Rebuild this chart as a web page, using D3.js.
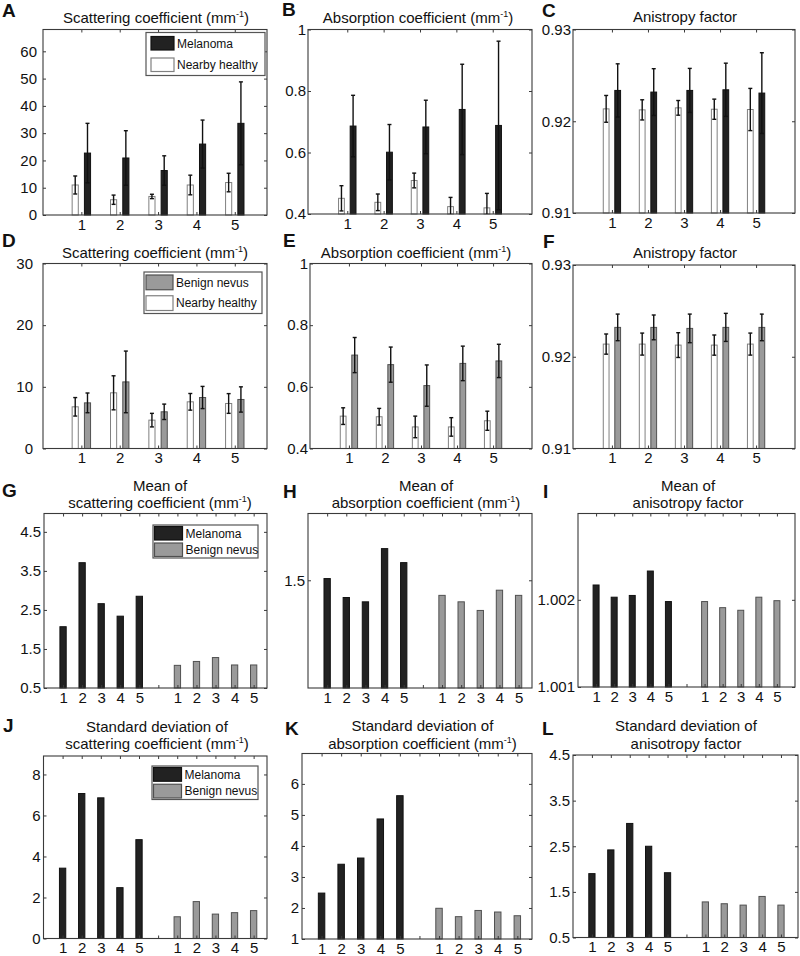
<!DOCTYPE html>
<html><head><meta charset="utf-8">
<script src="https://cdn.jsdelivr.net/npm/d3@7"></script>
<style>
body{margin:0;background:#fff}
svg{display:block}
text{font-family:"Liberation Sans",Arial,Helvetica,sans-serif}
</style>
</head><body>
<svg id="chart" width="800" height="956"></svg>
<script>
// ---------------- DATA ----------------
const groups = [1, 2, 3, 4, 5];
const groupLabels = ["1", "2", "3", "4", "5"];
const pairPositions = [1, 2, 3, 4, 5, 6, 7, 8, 9, 10, 11];
const pairLabels = ["1", "2", "3", "4", "5", "", "1", "2", "3", "4", "5"];
const melPositions = [1, 2, 3, 4, 5];
const benignPositions = [7, 8, 9, 10, 11];

// A: scattering coefficient, melanoma vs nearby healthy
const aHealthyMean = [11.0, 5.6, 6.8, 11.0, 11.9];
const aHealthyStd  = [3.3, 1.7, 0.8, 3.6, 3.4];
const aMelMean     = [22.7, 20.9, 16.3, 26.0, 33.6];
const aMelStd      = [10.9, 10.0, 5.4, 8.8, 15.2];
const aYTicks = [0, 10, 20, 30, 40, 50, 60];

// B: absorption coefficient, melanoma vs nearby healthy
const bHealthyMean = [0.451, 0.438, 0.509, 0.424, 0.420];
const bHealthyStd  = [0.041, 0.027, 0.024, 0.030, 0.047];
const bMelMean     = [0.686, 0.601, 0.683, 0.740, 0.688];
const bMelStd      = [0.100, 0.090, 0.087, 0.147, 0.274];
const bYTicks = [0.4, 0.6, 0.8, 1];

// C: anisotropy factor, melanoma vs nearby healthy
const cHealthyMean = [0.92135, 0.92124, 0.92146, 0.92131, 0.92128];
const cHealthyStd  = [0.00146, 0.0011, 0.0008, 0.0011, 0.0023];
const cMelMean     = [0.92336, 0.92318, 0.92336, 0.92343, 0.92307];
const cMelStd      = [0.0029, 0.00255, 0.0024, 0.0029, 0.0044];
const cYTicks = [0.91, 0.92, 0.93];

// D: scattering coefficient, benign nevus vs nearby healthy
const dHealthyMean = [6.76, 9.03, 4.6, 7.57, 7.3];
const dHealthyStd  = [1.5, 2.76, 1.1, 1.35, 1.6];
const dBenignMean  = [7.4, 10.8, 5.95, 8.27, 7.95];
const dBenignStd   = [1.6, 5.0, 1.25, 1.8, 2.05];
const dYTicks = [0, 10, 20, 30];

// E: absorption coefficient, benign nevus vs nearby healthy
const eHealthyMean = [0.505, 0.503, 0.470, 0.470, 0.490];
const eHealthyStd  = [0.027, 0.027, 0.035, 0.030, 0.031];
const eBenignMean  = [0.703, 0.672, 0.604, 0.676, 0.684];
const eBenignStd   = [0.057, 0.057, 0.067, 0.056, 0.054];
const eYTicks = [0.4, 0.6, 0.8, 1];

// F: anisotropy factor, benign nevus vs nearby healthy
const fHealthyMean = [0.92138, 0.92138, 0.92127, 0.92127, 0.92138];
const fHealthyStd  = [0.0011, 0.0012, 0.00135, 0.0011, 0.0012];
const fBenignMean  = [0.9232, 0.9232, 0.92309, 0.9232, 0.9232];
const fBenignStd   = [0.00145, 0.00135, 0.00156, 0.00153, 0.00145];
const fYTicks = [0.91, 0.92, 0.93];

// G-I: means (ratio), melanoma vs benign nevus
const gMel    = [2.07, 3.71, 2.66, 2.34, 2.85];
const gBenign = [1.08, 1.18, 1.28, 1.09, 1.09];
const gYTicks = [0.5, 1.5, 2.5, 3.5, 4.5];
const hMel    = [1.508, 1.42, 1.40, 1.647, 1.582];
const hBenign = [1.43, 1.40, 1.36, 1.454, 1.43];
const hYTicks = [1.5];
const iMel    = [1.00217, 1.00203, 1.00205, 1.00233, 1.00198];
const iBenign = [1.00198, 1.00191, 1.00188, 1.00203, 1.00199];
const iYTicks = [1.001, 1.002];

// J-L: standard deviations (ratio), melanoma vs benign nevus
const jMel    = [3.43, 7.07, 6.86, 2.48, 4.82];
const jBenign = [1.06, 1.80, 1.19, 1.26, 1.36];
const jYTicks = [0, 2, 4, 6, 8];
const kMel    = [2.48, 3.41, 3.61, 4.87, 5.62];
const kBenign = [1.99, 1.72, 1.92, 1.87, 1.75];
const kYTicks = [1, 2, 3, 4, 5, 6];
const lMel    = [1.90, 2.42, 3.0, 2.5, 1.92];
const lBenign = [1.28, 1.24, 1.21, 1.40, 1.21];
const lYTicks = [0.5, 1.5, 2.5, 3.5, 4.5];

// ---------------- STYLE ----------------
const COL_MEL = "#222222", COL_BEN = "#9a9a9a", COL_WHITE = "#ffffff";
const STK_MEL = "#111111", STK_BEN = "#505050", STK_WHITE = "#808080";
const AXIS_COL = "#3a3a3a";
const TICK_FS = 15, TITLE_FS = 15, LEG_FS = 12;

const svg = d3.select("#chart");

function titleLine(x, y, str) {
  const t = svg.append("text").attr("x", x).attr("y", y)
    .attr("text-anchor", "middle").attr("font-size", TITLE_FS).attr("fill", "#111");
  const idx = str.indexOf("(mm-1)");
  if (idx < 0) { t.text(str); return; }
  t.append("tspan").text(str.slice(0, idx) + "(mm");
  t.append("tspan").attr("font-size", TITLE_FS * 0.6).attr("dy", -TITLE_FS * 0.38).text("-1");
  t.append("tspan").attr("dy", TITLE_FS * 0.38).text(")");
}

function letter(x, y, s) {
  svg.append("text").attr("x", x).attr("y", y).attr("font-size", 19)
    .attr("font-weight", "bold").attr("fill", "#111").text(s);
}

function styleAxis(g) {
  g.select(".domain").remove();
  g.selectAll("line").attr("stroke", AXIS_COL);
  g.selectAll("text").attr("font-size", TICK_FS).attr("fill", "#111")
    .attr("font-family", '"Liberation Sans",Arial,Helvetica,sans-serif');
  g.attr("font-family", null).attr("font-size", null);
}

function frame(p, x, y, xTicks, xFmt) {
  const fmtY = p.yFmt || (d => d);
  svg.append("g").attr("transform", `translate(${p.l},0)`)
    .call(d3.axisLeft(y).tickValues(p.yTicks).tickSize(-3).tickPadding(p.gap).tickFormat(fmtY))
    .call(styleAxis);
  svg.append("g").attr("transform", `translate(${p.r},0)`)
    .call(d3.axisRight(y).tickValues(p.yTicks).tickSize(-3).tickFormat(""))
    .call(styleAxis);
  svg.append("g").attr("transform", `translate(0,${p.b})`)
    .call(d3.axisBottom(x).tickValues(xTicks).tickSize(-3).tickPadding(4).tickFormat(xFmt))
    .call(styleAxis);
  svg.append("g").attr("transform", `translate(0,${p.t})`)
    .call(d3.axisTop(x).tickValues(xTicks).tickSize(-3).tickFormat(""))
    .call(styleAxis);
  svg.append("rect").attr("x", p.l).attr("y", p.t).attr("width", p.r - p.l).attr("height", p.b - p.t)
    .attr("fill", "none").attr("stroke", AXIS_COL).attr("stroke-width", 1.1);
}

function legend(p) {
  const g = svg.append("g");
  g.append("rect").attr("x", p.x).attr("y", p.y).attr("width", p.w).attr("height", p.h)
    .attr("fill", "#fff").attr("stroke", "#555").attr("stroke-width", 1.2);
  const rowH = p.h / p.entries.length;
  p.entries.forEach((e, i) => {
    const y0 = p.y + i * rowH;
    g.append("rect").attr("x", p.x + p.sx).attr("y", y0 + p.sy)
      .attr("width", p.sw).attr("height", rowH - 2 * p.sy)
      .attr("fill", e.fill).attr("stroke", e.stroke).attr("stroke-width", 1.2);
    g.append("text").attr("x", p.x + p.sx + p.sw + 3).attr("y", y0 + rowH / 2 + 4.3)
      .attr("font-size", LEG_FS).attr("fill", "#111").text(e.label);
  });
}

function errorPanel(p) {
  const x = d3.scaleLinear().domain(p.xDomain).range([p.l, p.r]);
  const y = d3.scaleLinear().domain(p.yDomain).range([p.b, p.t]);
  const bw = 0.16, off = 0.16;
  p.series.forEach(s => {
    const pos = groups.map(gv => gv + s.side * off);
    svg.append("g").selectAll("rect").data(s.mean).join("rect")
      .attr("x", (d, i) => x(pos[i] - bw / 2))
      .attr("width", (d, i) => x(pos[i] + bw / 2) - x(pos[i] - bw / 2))
      .attr("y", d => y(d)).attr("height", d => p.b - y(d))
      .attr("fill", s.fill).attr("stroke", s.stroke).attr("stroke-width", 1);
  });
  frame(p, x, y, groups, (d, i) => groupLabels[i]);
  p.series.forEach(s => {
    const pos = groups.map(gv => gv + s.side * off);
    const eg = svg.append("g").attr("stroke", "#111").attr("stroke-width", 1.4);
    s.mean.forEach((m, i) => {
      const cx = x(pos[i]);
      const y1 = y(m + s.std[i]), y0 = y(Math.max(m - s.std[i], p.yDomain[0]));
      eg.append("line").attr("x1", cx).attr("x2", cx).attr("y1", y1).attr("y2", y0);
      eg.append("line").attr("x1", cx - 2).attr("x2", cx + 2).attr("y1", y1).attr("y2", y1);
      if (m - s.std[i] > p.yDomain[0])
        eg.append("line").attr("x1", cx - 2).attr("x2", cx + 2).attr("y1", y0).attr("y2", y0);
    });
  });
  titleLine(p.tx, p.ty, p.title);
  letter(p.lx, p.ly, p.letter);
  if (p.legend) legend(p.legend);
}

function pairPanel(p) {
  const x = d3.scaleLinear().domain(p.xDomain).range([p.l, p.r]);
  const y = d3.scaleLinear().domain(p.yDomain).range([p.b, p.t]);
  const bw = 0.33;
  [[melPositions, p.mel, COL_MEL, STK_MEL], [benignPositions, p.ben, COL_BEN, STK_BEN]].forEach(([pos, vals, fill, stk]) => {
    svg.append("g").selectAll("rect").data(vals).join("rect")
      .attr("x", (d, i) => x(pos[i] - bw / 2))
      .attr("width", (d, i) => x(pos[i] + bw / 2) - x(pos[i] - bw / 2))
      .attr("y", d => y(d)).attr("height", d => p.b - y(d))
      .attr("fill", fill).attr("stroke", stk).attr("stroke-width", 1);
  });
  frame(p, x, y, pairPositions, (d, i) => pairLabels[i]);
  p.title.forEach((t, i) => titleLine(p.tx, p.ty[i], t));
  letter(p.lx, p.ly, p.letter);
  if (p.legend) legend(p.legend);
}

const legMelHealthy = [
  {label: "Melanoma", fill: COL_MEL, stroke: STK_MEL},
  {label: "Nearby healthy", fill: COL_WHITE, stroke: STK_WHITE}];
const legBenHealthy = [
  {label: "Benign nevus", fill: COL_BEN, stroke: STK_BEN},
  {label: "Nearby healthy", fill: COL_WHITE, stroke: STK_WHITE}];
const legMelBen = [
  {label: "Melanoma", fill: COL_MEL, stroke: STK_MEL},
  {label: "Benign nevus", fill: COL_BEN, stroke: STK_BEN}];

const healthySeries = (m, s) => ({mean: m, std: s, side: -1, fill: COL_WHITE, stroke: STK_WHITE});
const melSeries = (m, s) => ({mean: m, std: s, side: 1, fill: COL_MEL, stroke: STK_MEL});
const benSeries = (m, s) => ({mean: m, std: s, side: 1, fill: COL_BEN, stroke: STK_BEN});

// Row 1
errorPanel({l: 43, r: 267, t: 29.5, b: 215, xDomain: [0, 5.84], yDomain: [0, 68], yTicks: aYTicks, gap: 6,
  series: [healthySeries(aHealthyMean, aHealthyStd), melSeries(aMelMean, aMelStd)],
  title: "Scattering coefficient (mm-1)", tx: 156, ty: 23, letter: "A", lx: 2, ly: 17,
  legend: {x: 146, y: 32.5, w: 119, h: 43, sx: 5, sy: 4, sw: 23, entries: legMelHealthy}});
errorPanel({l: 308, r: 532, t: 29.5, b: 214, xDomain: [-0.08, 6.08], yDomain: [0.4, 1], yTicks: bYTicks, gap: 2,
  series: [healthySeries(bHealthyMean, bHealthyStd), melSeries(bMelMean, bMelStd)],
  title: "Absorption coefficient (mm-1)", tx: 418, ty: 23, letter: "B", lx: 282, ly: 16});
errorPanel({l: 573, r: 795, t: 29.5, b: 213, xDomain: [-0.08, 6.08], yDomain: [0.91, 0.93], yTicks: cYTicks, gap: 2,
  series: [healthySeries(cHealthyMean, cHealthyStd), melSeries(cMelMean, cMelStd)],
  title: "Anistropy factor", tx: 685, ty: 22, letter: "C", lx: 542, ly: 17});

// Row 2
errorPanel({l: 43, r: 267, t: 263.5, b: 448.5, xDomain: [0, 5.84], yDomain: [0, 30], yTicks: dYTicks, gap: 10,
  series: [healthySeries(dHealthyMean, dHealthyStd), benSeries(dBenignMean, dBenignStd)],
  title: "Scattering coefficient (mm-1)", tx: 155, ty: 258, letter: "D", lx: 2, ly: 247,
  legend: {x: 144, y: 272, w: 118, h: 41.5, sx: 2, sy: 3, sw: 27, entries: legBenHealthy}});
errorPanel({l: 310, r: 532, t: 263.5, b: 448.5, xDomain: [-0.08, 6.08], yDomain: [0.4, 1], yTicks: eYTicks, gap: 2,
  series: [healthySeries(eHealthyMean, eHealthyStd), benSeries(eBenignMean, eBenignStd)],
  title: "Absorption coefficient (mm-1)", tx: 416, ty: 258, letter: "E", lx: 283, ly: 247});
errorPanel({l: 573, r: 795, t: 265, b: 448.5, xDomain: [-0.08, 6.08], yDomain: [0.91, 0.93], yTicks: fYTicks, gap: 2,
  series: [healthySeries(fHealthyMean, fHealthyStd), benSeries(fBenignMean, fBenignStd)],
  title: "Anistropy factor", tx: 685, ty: 258, letter: "F", lx: 543, ly: 248});

// Row 3
pairPanel({l: 44, r: 267, t: 513.5, b: 688, xDomain: [0, 11.7], yDomain: [0.5, 4.97], yTicks: gYTicks, gap: 3,
  mel: gMel, ben: gBenign, title: ["Mean of", "scattering coefficient (mm-1)"], tx: 160, ty: [491, 508],
  letter: "G", lx: 2, ly: 497,
  legend: {x: 153, y: 525, w: 105, h: 33, sx: 1.5, sy: 1.5, sw: 28, entries: legMelBen}});
pairPanel({l: 308, r: 532, t: 513.5, b: 688, xDomain: [0, 11.7], yDomain: [1.0, 1.81], yTicks: hYTicks, gap: 3,
  mel: hMel, ben: hBenign, title: ["Mean of", "absorption coefficient (mm-1)"], tx: 426, ty: [491, 508],
  letter: "H", lx: 283, ly: 498});
pairPanel({l: 578, r: 795, t: 513.5, b: 687, xDomain: [0, 12], yDomain: [1.001, 1.00299], yTicks: iYTicks, gap: 3,
  mel: iMel, ben: iBenign, title: ["Mean of", "anisotropy factor"], tx: 688, ty: [491, 508],
  letter: "I", lx: 543, ly: 498, yFmt: d3.format(".3f")});

// Row 4
pairPanel({l: 43.5, r: 267, t: 756, b: 938.5, xDomain: [0, 11.7], yDomain: [0, 8.9], yTicks: jYTicks, gap: 3,
  mel: jMel, ben: jBenign, title: ["Standard deviation of", "scattering coefficient (mm-1)"], tx: 157, ty: [731.5, 748.5],
  letter: "J", lx: 3, ly: 732,
  legend: {x: 152, y: 766, w: 106, h: 33.5, sx: 1.5, sy: 1.5, sw: 28, entries: legMelBen}});
pairPanel({l: 302, r: 532, t: 753.5, b: 939, xDomain: [0, 11.75], yDomain: [1, 6.98], yTicks: kYTicks, gap: 3,
  mel: kMel, ben: kBenign, title: ["Standard deviation of", "absorption coefficient (mm-1)"], tx: 422.5, ty: [731, 748.5],
  letter: "K", lx: 285, ly: 735});
pairPanel({l: 573, r: 798, t: 755, b: 937.5, xDomain: [0, 11.9], yDomain: [0.5, 4.5], yTicks: lYTicks, gap: 3,
  mel: lMel, ben: lBenign, title: ["Standard deviation of", "anisotropy factor"], tx: 686, ty: [731, 748.5],
  letter: "L", lx: 542, ly: 735});
</script>
</body></html>
